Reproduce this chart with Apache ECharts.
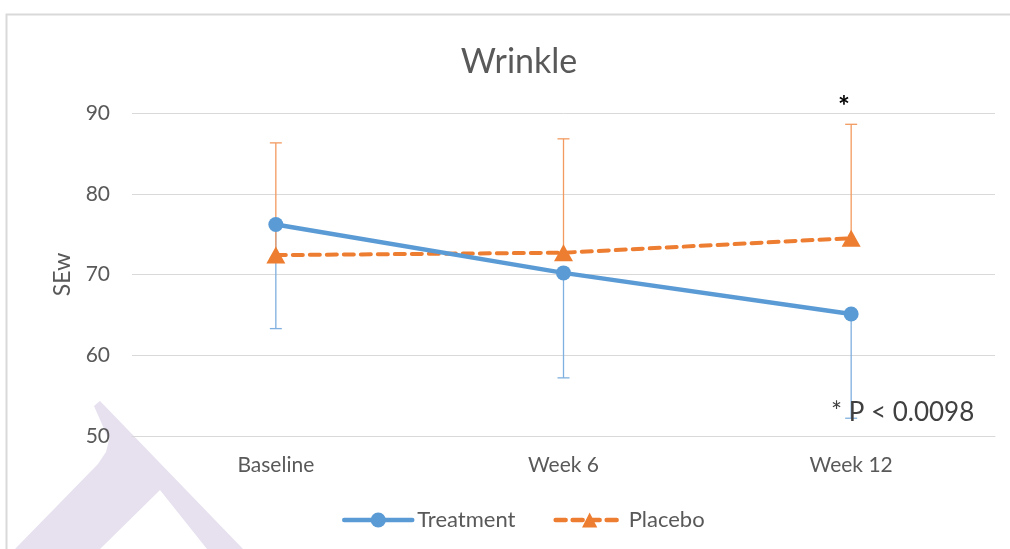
<!DOCTYPE html>
<html>
<head>
<meta charset="utf-8">
<script src="https://cdn.jsdelivr.net/npm/echarts@6/dist/echarts.min.js"></script>
<style>
  html, body { margin: 0; padding: 0; background: #ffffff; }
  #chart { width: 1010px; height: 549px; }
</style>
</head>
<body>
<div id="chart"></div>
<script>
// Visit labels and y-axis ticks
const visits = ['Baseline', 'Week 6', 'Week 12'];
const yTicks = [50, 60, 70, 80, 90];

// Mean SEw per group
const treatment = [76.2, 70.2, 65.1];
const placebo = [72.4, 72.7, 74.5];

// Error bar ends (treatment drawn downward, placebo upward)
const treatmentLow = [63.3, 57.2, 52.2];
const placeboHigh = [86.3, 86.8, 88.6];

const FONT = 'Lato, "Open Sans", sans-serif';
const BLUE = '#5B9BD5';
const ORANGE = '#ED7D31';

function errorBar(color) {
  return function (params, api) {
    const x = api.value(0);
    const p1 = api.coord([x, api.value(1)]);
    const p2 = api.coord([x, api.value(2)]);
    const half = 6;
    const style = { stroke: color, lineWidth: 1.3 };
    return {
      type: 'group',
      children: [
        { type: 'line', shape: { x1: p1[0], y1: p1[1], x2: p2[0], y2: p2[1] }, style: style },
        { type: 'line', shape: { x1: p2[0] - half, y1: p2[1], x2: p2[0] + half, y2: p2[1] }, style: style }
      ]
    };
  };
}

const chart = echarts.init(document.getElementById('chart'), null, { renderer: 'canvas' });

chart.setOption({
  animation: false,
  backgroundColor: '#ffffff',
  title: {
    text: 'Wrinkle',
    left: 514,
    textAlign: 'center',
    top: 40,
    textStyle: { fontFamily: FONT, fontSize: 34, fontWeight: 'normal', color: '#595959' }
  },
  legend: {
    left: 337,
    top: 504,
    itemWidth: 68,
    itemHeight: 19,
    itemGap: 38,
    textStyle: { fontFamily: FONT, fontSize: 22, color: '#595959' },
    data: [
      { name: 'Treatment', lineStyle: { width: 4.5 } },
      { name: 'Placebo', lineStyle: { width: 4.5 } }
    ]
  },
  grid: { left: 132, right: 15, top: 113, bottom: 113, containLabel: false },
  xAxis: {
    type: 'category',
    data: visits,
    boundaryGap: true,
    axisLine: { show: true, lineStyle: { color: '#D9D9D9', width: 1 } },
    axisTick: { show: false },
    axisLabel: { fontFamily: FONT, fontSize: 21, color: '#595959', margin: 19 }
  },
  yAxis: {
    type: 'value',
    min: yTicks[0],
    max: yTicks[yTicks.length - 1],
    interval: 10,
    name: 'SEw',
    nameLocation: 'middle',
    nameGap: 58,
    nameRotate: 90,
    nameTextStyle: { fontFamily: FONT, fontSize: 23, color: '#595959' },
    axisLine: { show: false },
    axisTick: { show: false },
    splitLine: { lineStyle: { color: '#D9D9D9', width: 1 } },
    axisLabel: { fontFamily: FONT, fontSize: 21, color: '#595959', margin: 22 }
  },
  graphic: [
    // chart frame
    {
      type: 'rect', silent: true, z: -10,
      shape: { x: 6.5, y: 14.5, width: 1040, height: 600 },
      style: { fill: 'none', stroke: '#D9D9D9', lineWidth: 2 }
    },
    // faint logo mark in the lower-left corner
    {
      type: 'polygon', silent: true, z: -5,
      shape: { points: [[15, 549], [98, 464], [106, 452], [109, 440], [94, 406], [100, 401], [243, 549], [207, 549], [160, 490], [100, 549]] },
      style: { fill: '#E6E0EF' }
    },
    {
      type: 'text', left: 831, top: 400, z: 10,
      style: { text: '* P < 0.0098', fontFamily: FONT, fontSize: 26, fill: '#404040' }
    },
    {
      type: 'text', left: 838, top: 93, z: 10,
      style: { text: '*', fontFamily: FONT, fontSize: 28, fontWeight: 'bold', fill: '#000000' }
    }
  ],
  series: [
    {
      name: 'Treatment error',
      type: 'custom',
      z: 1,
      renderItem: errorBar('#7FB0E0'),
      encode: { x: 0, y: [1, 2] },
      data: visits.map((v, i) => [i, treatment[i], treatmentLow[i]])
    },
    {
      name: 'Placebo error',
      type: 'custom',
      z: 1,
      renderItem: errorBar('#F29A60'),
      encode: { x: 0, y: [1, 2] },
      data: visits.map((v, i) => [i, placebo[i], placeboHigh[i]])
    },
    {
      name: 'Placebo',
      type: 'line',
      z: 3,
      data: placebo,
      symbol: 'triangle',
      symbolSize: [19, 17],
      itemStyle: { color: ORANGE },
      lineStyle: { color: ORANGE, width: 4, type: [10, 7], cap: 'round' }
    },
    {
      name: 'Treatment',
      type: 'line',
      z: 4,
      data: treatment,
      symbol: 'circle',
      symbolSize: 15,
      itemStyle: { color: BLUE },
      lineStyle: { color: BLUE, width: 4.5, cap: 'round' }
    }
  ]
});
</script>
</body>
</html>
